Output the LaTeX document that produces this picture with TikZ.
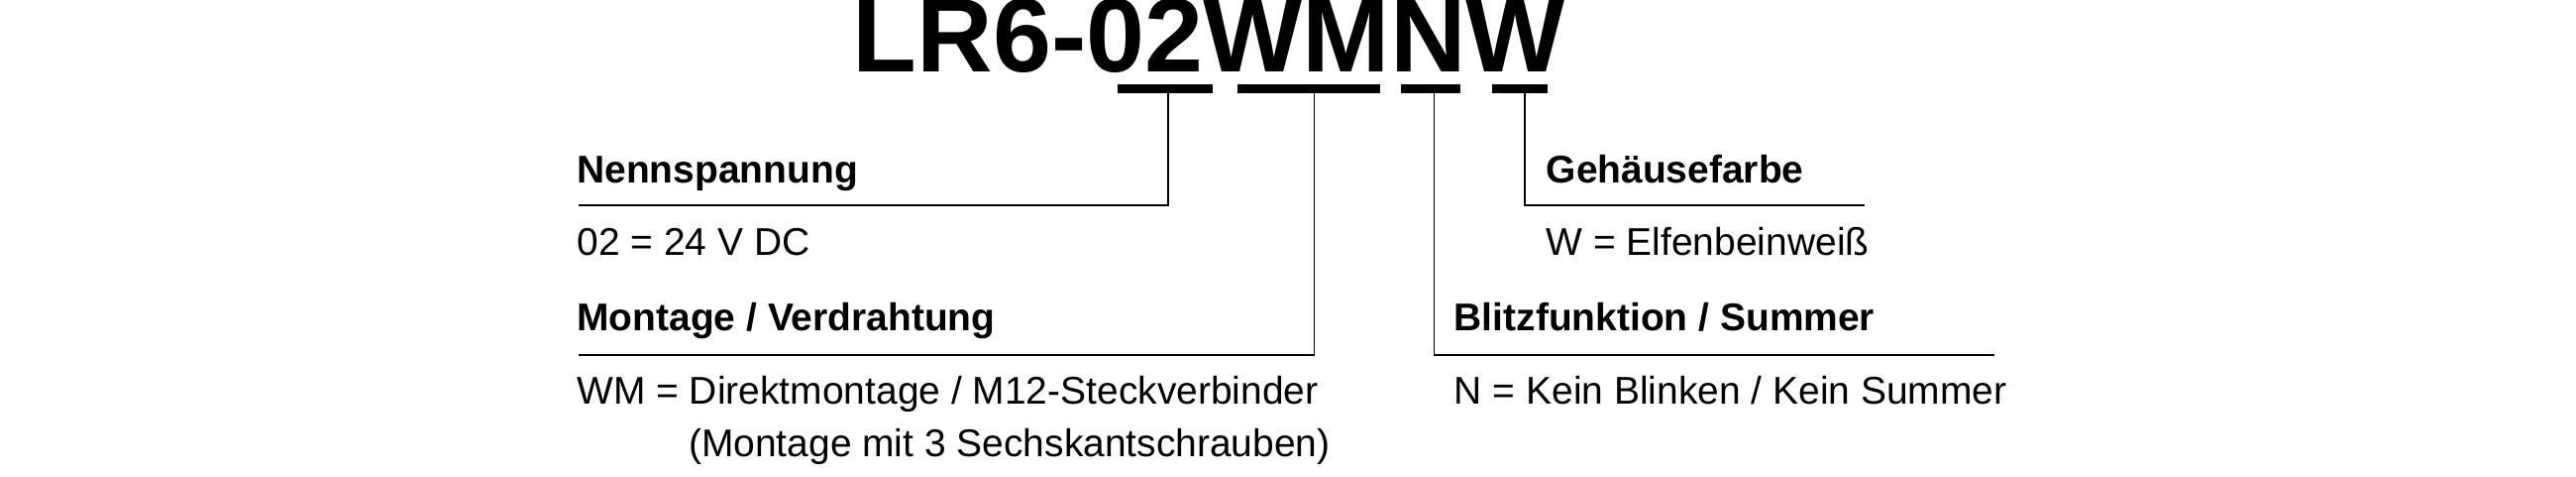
\documentclass[tikz,border=0pt]{standalone}
\usepackage{fontspec}
\setmainfont{Liberation Sans}
\begin{document}
\begin{tikzpicture}[x=1pt,y=-1pt,
  lbl/.style={anchor=base west,inner sep=0pt,font=\fontsize{23.5}{28}\selectfont},
  hd/.style={lbl,font=\fontsize{23.5}{28}\selectfont\bfseries},
  bar/.style={line width=5pt},
  ln/.style={line width=1pt}]
\useasboundingbox (0,0) rectangle (1568,289.5);
\node[anchor=base west,inner sep=0pt,font=\fontsize{64}{66}\selectfont\bfseries] (t) at (519,44) {LR6-02WMNW};
\coordinate (b1l) at (680,54); \coordinate (b1r) at (738,54);
\coordinate (b2l) at (753,54); \coordinate (b2r) at (840,54);
\coordinate (b3l) at (853,54); \coordinate (b3r) at (889,54);
\coordinate (b4l) at (908,54); \coordinate (b4r) at (942,54);
\draw[bar] (b1l) -- (b1r); \draw[bar] (b2l) -- (b2r);
\draw[bar] (b3l) -- (b3r); \draw[bar] (b4l) -- (b4r);
\coordinate (v1) at (711,56); \coordinate (c1) at (711,125); \coordinate (e1) at (352,125);
\coordinate (v2) at (800,56); \coordinate (c2) at (800,216); \coordinate (e2) at (352,216);
\coordinate (v3) at (873,56); \coordinate (c3) at (873,216); \coordinate (e3) at (1214,216);
\coordinate (v4) at (928,56); \coordinate (c4) at (928,125); \coordinate (e4) at (1135,125);
\draw[ln] (v1) -- (c1) -- (e1);
\draw[ln] (v2) -- (c2) -- (e2);
\draw[ln] (v3) -- (c3) -- (e3);
\draw[ln] (v4) -- (c4) -- (e4);
\node[hd] (h1) at (351,111) {Nennspannung};
\node[lbl] (d1) at (351,155) {02 = 24 V DC};
\node[hd] (h2) at (351,201) {Montage / Verdrahtung};
\node[lbl] (d2) at (351,246) {WM = Direktmontage / M12-Steckverbinder};
\node[lbl] (d2b) at (419,278) {(Montage mit 3 Sechskantschrauben)};
\node[hd] (h4) at (941,111) {Gehäusefarbe};
\node[lbl] (d4) at (941,155) {W = Elfenbeinweiß};
\node[hd] (h3) at (885,201) {Blitzfunktion / Summer};
\node[lbl] (d3) at (885,246) {N = Kein Blinken / Kein Summer};
\end{tikzpicture}
\end{document}
